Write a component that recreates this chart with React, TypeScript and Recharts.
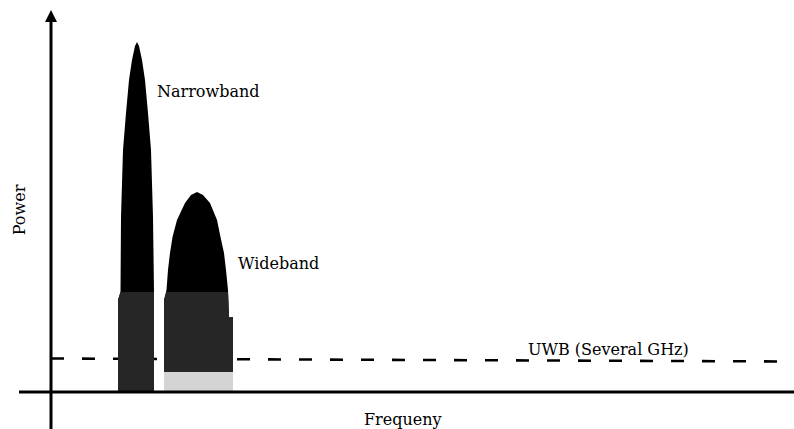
import React from 'react';
import {
    ComposedChart, Area, XAxis, YAxis, ReferenceLine, ReferenceDot,
} from 'recharts';

// frequency / power in arbitrary units (origin where the axes cross)
const FREQ_DOMAIN: [number, number] = [-5.1, 74.3];
const POWER_DOMAIN: [number, number] = [-3.7, 39.2];

const NARROWBAND = [
    { f: 6.7, p: 9.2 },
    { f: 6.95, p: 10.0 },
    { f: 7.0, p: 17.5 },
    { f: 7.2, p: 24.2 },
    { f: 7.5, p: 27.9 },
    { f: 7.8, p: 31.2 },
    { f: 8.1, p: 33.2 },
    { f: 8.4, p: 34.6 },
    { f: 8.6, p: 35.0 },
    { f: 8.8, p: 34.6 },
    { f: 9.1, p: 33.2 },
    { f: 9.4, p: 31.2 },
    { f: 9.7, p: 27.9 },
    { f: 10.0, p: 24.2 },
    { f: 10.2, p: 17.5 },
    { f: 10.3, p: 10.0 },
];

const WIDEBAND = [
    { f: 11.3, p: 9.2 },
    { f: 11.55, p: 10.2 },
    { f: 11.7, p: 12.2 },
    { f: 11.9, p: 13.9 },
    { f: 12.15, p: 15.5 },
    { f: 12.6, p: 17.2 },
    { f: 13.4, p: 18.9 },
    { f: 14.0, p: 19.7 },
    { f: 14.6, p: 20.0 },
    { f: 15.2, p: 19.7 },
    { f: 15.9, p: 18.9 },
    { f: 16.6, p: 17.2 },
    { f: 16.95, p: 15.5 },
    { f: 17.3, p: 13.9 },
    { f: 17.5, p: 12.2 },
    { f: 17.7, p: 10.2 },
    { f: 17.8, p: 7.5 },
    { f: 18.2, p: 7.5 },
];

const UWB_LEVEL = [
    { f: 0, p: 3.35 },
    { f: 74.3, p: 3.05 },
];

// below this power the bands are printed in dark gray instead of black
const SHADE_LEVEL = 10.0;
// faded strip at the foot of the wideband hump
const FADE_LEVEL = 2.0;

const clip = (rows: { f: number; p: number }[], level: number) =>
    rows.map(r => ({ f: r.f, p: Math.min(r.p, level) }));

const Arrowhead = (props: any) => {
    const { cx, cy } = props;
    return <polygon points={`${cx},${cy - 6} ${cx - 6},${cy + 6} ${cx + 6},${cy + 6}`} fill="#000" />;
};

const serif = { fontFamily: '"DejaVu Serif", serif', fontSize: 16, fill: '#000' };

const band = (rows: { f: number; p: number }[], fill: string) => (
    <Area data={rows} dataKey="p" type="linear" baseValue={0} fill={fill} fillOpacity={1}
        stroke="none" dot={false} activeDot={false} isAnimationActive={false} />
);

export default function App() {
    return (
        <div style={{ position: 'relative', width: 794, height: 429, background: '#fff' }}>
            <style>{'body{margin:0}'}</style>
            <ComposedChart width={794} height={429} margin={{ top: 0, right: 0, bottom: 0, left: 0 }}>
                <XAxis type="number" dataKey="f" domain={FREQ_DOMAIN} hide allowDataOverflow />
                <YAxis type="number" dataKey="p" domain={POWER_DOMAIN} hide allowDataOverflow />

                {/* UWB level as an unfilled area so it stays underneath the bands */}
                <Area data={UWB_LEVEL} dataKey="p" type="linear" baseValue={0} fill="none" stroke="#000"
                    strokeWidth={2.6} strokeDasharray="13 18" dot={false} activeDot={false}
                    isAnimationActive={false} />

                {band(NARROWBAND, '#000')}
                {band(WIDEBAND, '#000')}
                {band(clip(NARROWBAND, SHADE_LEVEL), '#262626')}
                {band(clip(WIDEBAND, SHADE_LEVEL), '#262626')}
                {band(clip(WIDEBAND, FADE_LEVEL), '#d4d4d4')}

                <ReferenceLine segment={[{ x: 0, y: -3.7 }, { x: 0, y: 37 }]} stroke="#000" strokeWidth={3} />
                <ReferenceLine segment={[{ x: -3.2, y: 0 }, { x: 74.3, y: 0 }]} stroke="#000" strokeWidth={3} />
                <ReferenceDot x={0} y={37.6} r={6} shape={Arrowhead} />
            </ComposedChart>

            <svg width={794} height={429} style={{ position: 'absolute', left: 0, top: 0, pointerEvents: 'none' }}>
                <text x={157} y={97} {...serif}>Narrowband</text>
                <text x={238} y={269} {...serif}>Wideband</text>
                <text x={528} y={355} {...serif}>UWB (Several GHz)</text>
                <text x={364} y={425} {...serif}>Frequeny</text>
                <text transform="translate(25,210) rotate(-90)" textAnchor="middle" {...serif}>Power</text>
            </svg>
        </div>
    );
}
